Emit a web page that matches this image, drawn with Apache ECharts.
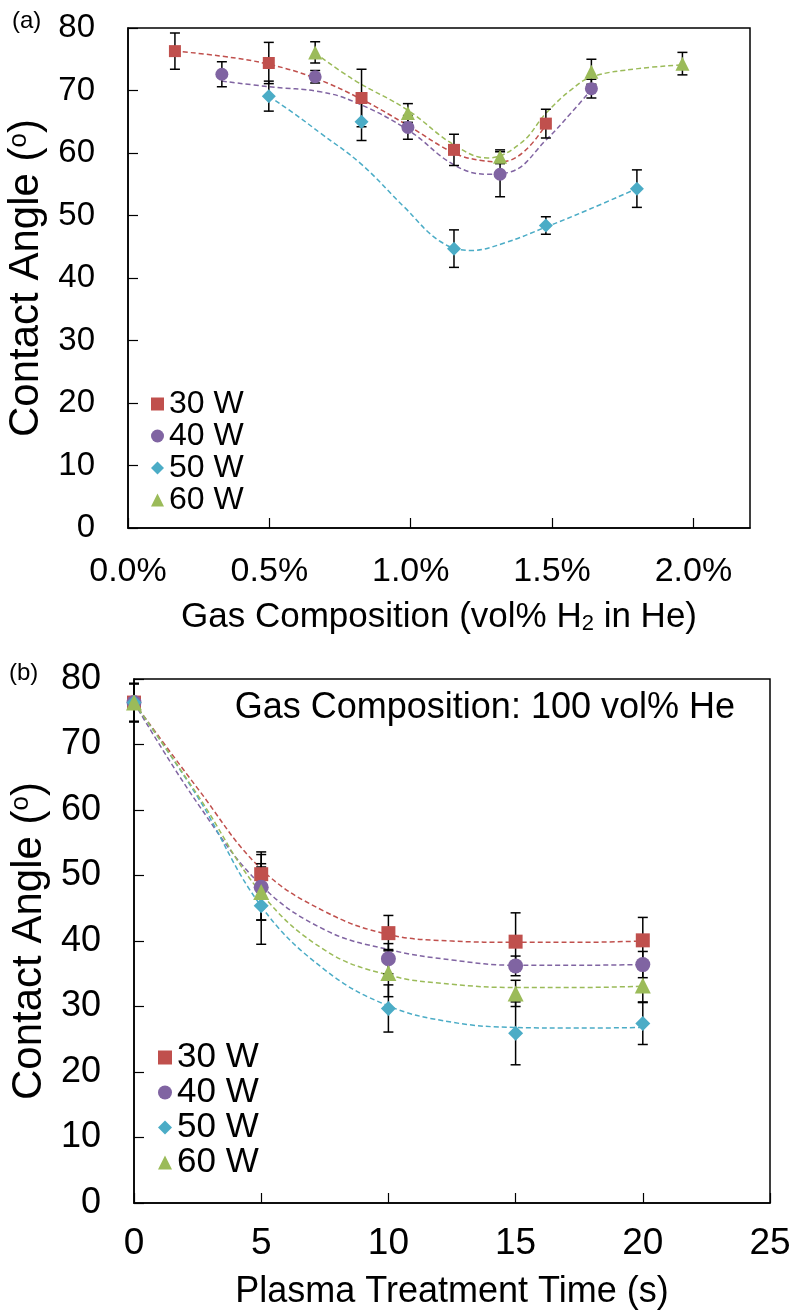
<!DOCTYPE html>
<html>
<head>
<meta charset="utf-8">
<script src="https://cdn.jsdelivr.net/npm/echarts@6/dist/echarts.min.js"></script>
<style>
html,body{margin:0;padding:0;background:#fff;}
#c{width:794px;height:1314px;}
</style>
</head>
<body>
<div id="c"></div>
<script>
// ---------- Panel (a): contact angle vs gas composition (vol% H2 in He) ----------
const seriesNames = ['30 W', '40 W', '50 W', '60 W'];
const xTicksA = [0, 0.5, 1.0, 1.5, 2.0];

const a30x = [0.166, 0.498, 0.826, 1.153, 1.478];
const a30y = [76.3, 74.4, 68.8, 60.5, 64.7];
const a30e = [2.9, 3.3, 4.6, 2.5, 2.3];

const a40x = [0.332, 0.662, 0.990, 1.316, 1.639];
const a40y = [72.6, 72.2, 64.1, 56.6, 70.3];
const a40e = [2.0, 1.0, 1.9, 3.6, 1.5];

const a50x = [0.498, 0.826, 1.153, 1.478, 1.800];
const a50y = [69.1, 65.0, 44.7, 48.4, 54.3];
const a50e = [2.4, 3.0, 3.0, 1.4, 3.0];

const a60x = [0.662, 0.990, 1.316, 1.639, 1.961];
const a60y = [76.1, 66.4, 59.4, 73.0, 74.3];
const a60e = [1.7, 1.5, 1.1, 2.0, 1.8];

// trendlines
const a30tx = [0.166, 0.33, 0.498, 0.66, 0.826, 0.99, 1.153, 1.25, 1.32, 1.40, 1.478];
const a30ty = [76.3, 75.5, 74.2, 72.0, 68.6, 64.4, 60.0, 58.8, 58.6, 60.2, 64.5];
const a40tx = [0.332, 0.50, 0.68, 0.80, 0.99, 1.153, 1.27, 1.355, 1.479, 1.567, 1.642];
const a40ty = [71.5, 70.6, 69.8, 68.2, 63.7, 58.1, 56.6, 57.0, 62.1, 66.4, 70.3];
const a50tx = [0.498, 0.60, 0.68, 0.823, 0.976, 1.106, 1.213, 1.331, 1.481, 1.627, 1.800];
const a50ty = [69.1, 65.9, 63.2, 58.3, 51.4, 45.8, 44.4, 45.6, 48.2, 50.9, 54.3];
const a60tx = [0.662, 0.799, 0.988, 1.153, 1.272, 1.39, 1.479, 1.567, 1.642, 1.804, 1.961];
const a60ty = [76.0, 71.7, 66.9, 61.3, 59.2, 61.6, 66.4, 70.1, 72.2, 73.5, 74.1];

// ---------- Panel (b): contact angle vs plasma treatment time ----------
const bTime = [0, 5, 10, 15, 20];
const b30y = [76.4, 50.2, 41.2, 39.9, 40.1];
const b30e = [2.9, 3.4, 2.7, 4.4, 3.5];
const b40y = [76.4, 48.2, 37.3, 36.2, 36.4];
const b40e = [2.9, 5.0, 2.3, 1.5, 2.0];
const b50y = [76.4, 45.4, 29.7, 25.9, 27.4];
const b50e = [2.9, 5.9, 3.6, 4.8, 3.2];
const b60y = [76.4, 47.5, 35.1, 32.0, 33.2];
const b60e = [2.9, 4.3, 3.6, 2.0, 2.5];

const bTrendT = [0, 2.5, 5, 7.5, 10, 12.5, 15, 17.5, 20];
const b30t = [76.4, 63.3, 51.0, 44.5, 41.0, 40.0, 39.8, 39.8, 40.0];
const b40t = [76.4, 61.0, 48.5, 41.7, 38.7, 37.1, 36.3, 36.3, 36.4];
const b50t = [76.4, 62.0, 45.3, 35.6, 30.1, 27.6, 26.8, 26.7, 26.8];
const b60t = [76.4, 62.3, 47.3, 38.6, 34.8, 33.4, 32.9, 32.9, 33.1];

const colors = ['#C0504D', '#8064A2', '#4BACC6', '#9BBB59'];
const symbols = ['rect', 'circle', 'diamond', 'triangle'];
const FONT = 'Liberation Sans, Arial, sans-serif';

function zip(xs, ys) { return xs.map((x, i) => [x, ys[i]]); }
function zip3(xs, ys, es) { return xs.map((x, i) => [x, ys[i], es[i]]); }

function errRender(params, api) {
  const x = api.value(0), y = api.value(1), e = api.value(2);
  const p1 = api.coord([x, y + e]);
  const p2 = api.coord([x, y - e]);
  const w = 5;
  const st = { stroke: '#000', lineWidth: 1.5 };
  return {
    type: 'group',
    children: [
      { type: 'line', shape: { x1: p1[0], y1: p1[1], x2: p2[0], y2: p2[1] }, style: st },
      { type: 'line', shape: { x1: p1[0] - w, y1: p1[1], x2: p1[0] + w, y2: p1[1] }, style: st },
      { type: 'line', shape: { x1: p2[0] - w, y1: p2[1], x2: p2[0] + w, y2: p2[1] }, style: st }
    ]
  };
}

const aPts = [[a30x, a30y, a30e], [a40x, a40y, a40e], [a50x, a50y, a50e], [a60x, a60y, a60e]];
const aTr = [[a30tx, a30ty], [a40tx, a40ty], [a50tx, a50ty], [a60tx, a60ty]];
const bPts = [[b30y, b30e], [b40y, b40e], [b50y, b50e], [b60y, b60e]];
const bTr = [b30t, b40t, b50t, b60t];

const series = [];
// trendlines
aTr.forEach((t, i) => {
  series.push({
    type: 'line', name: 'trendA' + i, xAxisIndex: 0, yAxisIndex: 0, z: 1,
    data: zip(t[0], t[1]), smooth: 0.4, showSymbol: false, silent: true,
    lineStyle: { color: colors[i], width: 1.5, type: [5, 3] }
  });
});
bTr.forEach((t, i) => {
  series.push({
    type: 'line', name: 'trendB' + i, xAxisIndex: 1, yAxisIndex: 1, z: 1,
    data: zip(bTrendT, t), smooth: 0.4, showSymbol: false, silent: true,
    lineStyle: { color: colors[i], width: 1.5, type: [5, 3] }
  });
});
// error bars
let errA = [], errB = [];
aPts.forEach(p => { errA = errA.concat(zip3(p[0], p[1], p[2])); });
bPts.forEach(p => { errB = errB.concat(zip3(bTime, p[0], p[1])); });
series.push({ type: 'custom', name: 'errA', xAxisIndex: 0, yAxisIndex: 0, z: 2,
  renderItem: errRender, data: errA, encode: { x: 0, y: 1 }, silent: true });
series.push({ type: 'custom', name: 'errB', xAxisIndex: 1, yAxisIndex: 1, z: 2,
  renderItem: errRender, data: errB, encode: { x: 0, y: 1 }, silent: true });
// markers
const symSizeA = [12, 13, 14, 14];
const symSizeB = [14, 15, 15, 16];
aPts.forEach((p, i) => {
  series.push({
    type: 'scatter', name: seriesNames[i], xAxisIndex: 0, yAxisIndex: 0, z: 3,
    data: zip(p[0], p[1]), symbol: symbols[i], symbolSize: symSizeA[i],
    itemStyle: { color: colors[i], opacity: 1 }
  });
});
bPts.forEach((p, i) => {
  series.push({
    type: 'scatter', name: seriesNames[i], xAxisIndex: 1, yAxisIndex: 1, z: 3,
    data: zip(bTime, p[0]), symbol: symbols[i], symbolSize: symSizeB[i],
    itemStyle: { color: colors[i], opacity: 1 }
  });
});

const axisLineStyle = { lineStyle: { color: '#000', width: 1.5 } };
const tickStyle = { inside: true, length: 10, lineStyle: { color: '#000', width: 1.2 } };

const option = {
  animation: false,
  backgroundColor: '#fff',
  textStyle: { fontFamily: FONT },
  grid: [
    { left: 128, top: 28, width: 622, height: 500, show: true, borderColor: '#000', borderWidth: 1.5,
      backgroundColor: 'transparent', containLabel: false, outerBoundsMode: 'none' },
    { left: 134, top: 679, width: 636, height: 524, show: true, borderColor: '#000', borderWidth: 1.5,
      backgroundColor: 'transparent', containLabel: false, outerBoundsMode: 'none' }
  ],
  xAxis: [
    {
      type: 'value', gridIndex: 0, min: 0, max: 2.2, interval: 0.5,
      axisLine: axisLineStyle, axisTick: tickStyle, splitLine: { show: false },
      axisLabel: { fontSize: 34, color: '#000', fontFamily: FONT, margin: 27, showMaxLabel: false,
        formatter: v => (xTicksA.some(t => Math.abs(t - v) < 1e-6) ? v.toFixed(1) + '%' : '') },
      name: 'Gas Composition (vol% H{sub|2} in He)', nameLocation: 'middle', nameGap: 72,
      nameTextStyle: { fontSize: 35, color: '#000', fontFamily: FONT,
        rich: { sub: { fontSize: 22, verticalAlign: 'bottom', color: '#000', fontFamily: FONT } } }
    },
    {
      type: 'value', gridIndex: 1, min: 0, max: 25, interval: 5,
      axisLine: axisLineStyle, axisTick: tickStyle, splitLine: { show: false },
      axisLabel: { fontSize: 37, color: '#000', fontFamily: FONT, margin: 22 },
      name: 'Plasma Treatment Time (s)', nameLocation: 'middle', nameGap: 71,
      nameTextStyle: { fontSize: 36, color: '#000', fontFamily: FONT }
    }
  ],
  yAxis: [
    {
      type: 'value', gridIndex: 0, min: 0, max: 80, interval: 10,
      axisLine: axisLineStyle, axisTick: tickStyle, splitLine: { show: false },
      axisLabel: { fontSize: 33, color: '#000', fontFamily: FONT, margin: 33 },
      name: 'Contact Angle ({sup|o})', nameLocation: 'middle', nameGap: 77, nameRotate: 90,
      nameTextStyle: { fontSize: 42, color: '#000', fontFamily: FONT,
        rich: { sup: { fontSize: 26, verticalAlign: 'top', color: '#000', fontFamily: FONT } } }
    },
    {
      type: 'value', gridIndex: 1, min: 0, max: 80, interval: 10,
      axisLine: axisLineStyle, axisTick: tickStyle, splitLine: { show: false },
      axisLabel: { fontSize: 36, color: '#000', fontFamily: FONT, margin: 33 },
      name: 'Contact Angle ({sup|o})', nameLocation: 'middle', nameGap: 83, nameRotate: 90,
      nameTextStyle: { fontSize: 42, color: '#000', fontFamily: FONT,
        rich: { sup: { fontSize: 26, verticalAlign: 'top', color: '#000', fontFamily: FONT } } }
    }
  ],
  legend: [
    {
      orient: 'vertical', left: 151, top: 388, padding: 0, itemGap: 0,
      itemWidth: 13, itemHeight: 13, itemTextGap: 13, selectedMode: false,
      textStyle: { fontSize: 32, color: '#000', fontFamily: FONT, lineHeight: 31 },
      data: seriesNames.map((n, i) => ({ name: n, icon: symbols[i] }))
    },
    {
      orient: 'vertical', left: 158, top: 1040, padding: 0, itemGap: 0,
      itemWidth: 14, itemHeight: 14, itemTextGap: 13, selectedMode: false,
      textStyle: { fontSize: 35, color: '#000', fontFamily: FONT, lineHeight: 35 },
      data: seriesNames.map((n, i) => ({ name: n, icon: symbols[i] }))
    }
  ],
  graphic: [
    { type: 'text', left: 12, top: 9, style: { text: '(a)', fontSize: 24, fill: '#000', fontFamily: FONT } },
    { type: 'text', left: 9, top: 661, style: { text: '(b)', fontSize: 24, fill: '#000', fontFamily: FONT } },
    { type: 'text', right: 59, top: 690, style: { text: 'Gas Composition: 100 vol% He', fontSize: 36, fill: '#000', fontFamily: FONT } }
  ],
  series: series
};

const chart = echarts.init(document.getElementById('c'), null, { renderer: 'canvas' });
chart.setOption(option);
</script>
</body>
</html>
